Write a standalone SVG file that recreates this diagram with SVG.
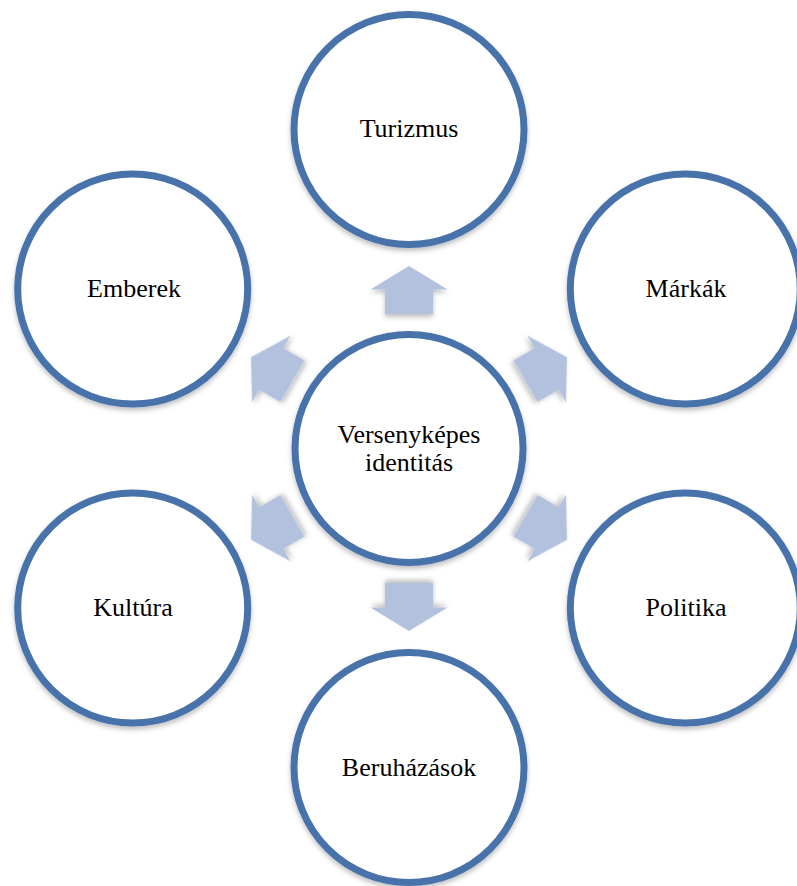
<svg xmlns="http://www.w3.org/2000/svg" width="797" height="886" viewBox="0 0 797 886">
  <style>
    .node circle { fill: #ffffff; stroke: #4672AA; stroke-width: 7; filter: url(#sh); }
    .node text { font-family: "Liberation Serif", "Times New Roman", serif; font-size: 26px; fill: #000000; text-anchor: middle; }
    .arrow { fill: #B2C2DE; filter: url(#sh2); }
  </style>
  <defs>
    <filter id="sh" x="-20%" y="-20%" width="140%" height="140%">
      <feDropShadow dx="0" dy="3" stdDeviation="2.5" flood-color="#000000" flood-opacity="0.25"/>
    </filter>
    <filter id="sh2" x="-30%" y="-30%" width="160%" height="160%">
      <feDropShadow dx="0" dy="3" stdDeviation="2.5" flood-color="#000000" flood-opacity="0.25"/>
    </filter>
    <path id="arr" class="arrow" d="M -24,-134.5 L -24,-159 L -38.5,-159 L 0,-182.5 L 38.5,-159 L 24,-159 L 24,-134.5 Z"/>
  </defs>
  <rect width="797" height="886" fill="#ffffff"/>
  <g id="connectors" transform="translate(409,448.5)">
    <use href="#arr"/>
    <use href="#arr" transform="rotate(60)"/>
    <use href="#arr" transform="rotate(120)"/>
    <use href="#arr" transform="rotate(180)"/>
    <use href="#arr" transform="rotate(-120)"/>
    <use href="#arr" transform="rotate(-60)"/>
  </g>
  <g id="center" class="node">
    <circle cx="409" cy="448.5" r="114"/>
    <text x="409" y="443">Versenyképes</text>
    <text x="409" y="471">identitás</text>
  </g>
  <g id="turizmus" class="node">
    <circle cx="409" cy="129.5" r="115"/>
    <text x="409" y="137">Turizmus</text>
  </g>
  <g id="markak" class="node">
    <circle cx="685.3" cy="289" r="115"/>
    <text x="686" y="297">Márkák</text>
  </g>
  <g id="politika" class="node">
    <circle cx="685.3" cy="608" r="115"/>
    <text x="686" y="616">Politika</text>
  </g>
  <g id="beruhazasok" class="node">
    <circle cx="409" cy="767.5" r="115"/>
    <text x="409" y="776">Beruházások</text>
  </g>
  <g id="kultura" class="node">
    <circle cx="132.7" cy="608" r="115"/>
    <text x="133" y="616">Kultúra</text>
  </g>
  <g id="emberek" class="node">
    <circle cx="132.7" cy="289" r="115"/>
    <text x="134" y="297">Emberek</text>
  </g>
</svg>
